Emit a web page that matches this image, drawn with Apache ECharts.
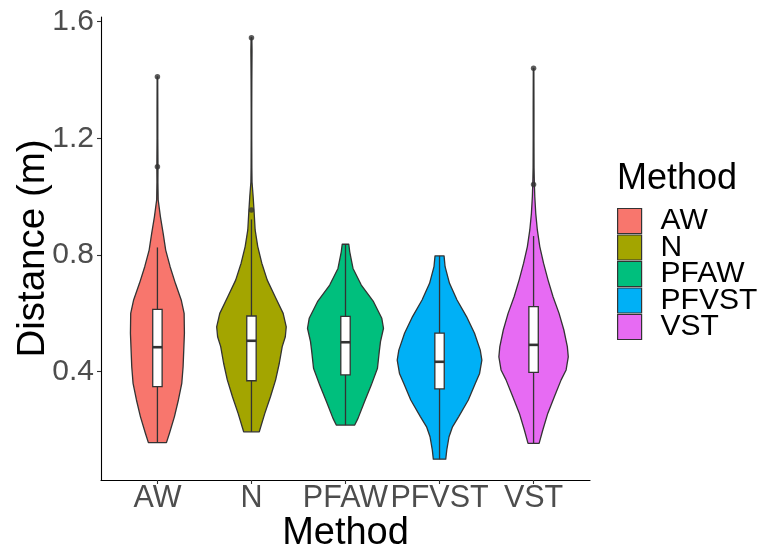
<!DOCTYPE html>
<html>
<head>
<meta charset="utf-8">
<script src="https://cdn.jsdelivr.net/npm/echarts@6/dist/echarts.min.js"></script>
<style>
  html, body { margin: 0; padding: 0; background: #fff; }
  #chart { width: 762px; height: 551px; }
</style>
</head>
<body>
<div id="chart"></div>
<script>
// ---- data ----
const methods = ['AW', 'N', 'PFAW', 'PFVST', 'VST'];
const xTickPositions = [1, 2, 3, 4, 5];
const yTicks = [0.4, 0.8, 1.2, 1.6];

// violin outlines: [value, half-width (in category units)]
const violinAW = [[0.157,0.096],[0.189,0.128],[0.246,0.181],[0.303,0.223],[0.360,0.259],[0.417,0.273],[0.474,0.280],[0.532,0.287],[0.600,0.284],[0.646,0.253],[0.703,0.191],[0.760,0.135],[0.817,0.088],[0.874,0.061],[0.931,0.032],[0.989,0.008],[1.05,0.005],[1.10,0.006],[1.20,0.004],[1.30,0.004],[1.411,0.003]];
const violinN = [[0.194,0.083],[0.257,0.142],[0.314,0.202],[0.372,0.257],[0.429,0.296],[0.486,0.327],[0.520,0.360],[0.554,0.370],[0.600,0.337],[0.657,0.252],[0.714,0.168],[0.772,0.110],[0.829,0.067],[0.886,0.039],[0.943,0.029],[1.000,0.018],[1.05,0.006],[1.10,0.004],[1.20,0.003],[1.30,0.003],[1.40,0.004],[1.50,0.006],[1.545,0.004]];
const violinPFAW = [[0.217,0.098],[0.240,0.133],[0.297,0.202],[0.354,0.274],[0.412,0.340],[0.469,0.359],[0.503,0.372],[0.549,0.404],[0.583,0.386],[0.640,0.298],[0.697,0.168],[0.754,0.080],[0.811,0.045],[0.837,0.035]];
const violinPFVST = [[0.100,0.066],[0.132,0.077],[0.177,0.101],[0.211,0.138],[0.246,0.204],[0.303,0.306],[0.360,0.381],[0.394,0.426],[0.440,0.450],[0.474,0.433],[0.532,0.372],[0.589,0.287],[0.646,0.186],[0.703,0.106],[0.760,0.059],[0.797,0.048]];
const violinVST = [[0.154,0.059],[0.200,0.098],[0.257,0.151],[0.314,0.221],[0.372,0.293],[0.406,0.346],[0.451,0.369],[0.486,0.359],[0.543,0.322],[0.600,0.271],[0.657,0.207],[0.714,0.154],[0.772,0.106],[0.829,0.066],[0.886,0.040],[0.943,0.023],[1.000,0.013],[1.05,0.008],[1.10,0.005],[1.20,0.004],[1.30,0.004],[1.44,0.003]];

// box plot statistics
const whiskerLow  = [0.157, 0.194, 0.217, 0.100, 0.154];
const q1          = [0.349, 0.369, 0.389, 0.341, 0.398];
const median      = [0.484, 0.506, 0.501, 0.434, 0.492];
const q3          = [0.614, 0.591, 0.590, 0.532, 0.623];
const whiskerHigh = [0.826, 0.922, 0.837, 0.797, 0.865];
const outlierMethod = ['AW', 'AW', 'N', 'N', 'VST', 'VST'];
const outlierValue  = [1.103, 1.411, 0.954, 1.545, 1.042, 1.440];

// ---- styles ----
const colors = ['#F8766D', '#A3A500', '#00BF7D', '#00B0F6', '#E76BF3'];
const outline = '#333333';
const FONT = '"Liberation Sans", Arial, sans-serif';

const profiles = [violinAW, violinN, violinPFAW, violinPFVST, violinVST];

const chart = echarts.init(document.getElementById('chart'), null, { renderer: 'canvas' });

function violinRenderer(k) {
  return function (params, api) {
    const pos = xTickPositions[k];
    const prof = profiles[k];
    const right = prof.map(p => api.coord([pos + p[1], p[0]]));
    const left = prof.slice().reverse().map(p => api.coord([pos - p[1], p[0]]));
    return {
      type: 'polygon',
      shape: { points: right.concat(left) },
      style: { fill: colors[k], stroke: outline, lineWidth: 1.3, lineJoin: 'round' }
    };
  };
}

const violinSeries = methods.map((m, k) => ({
  type: 'custom',
  name: m,
  data: [[xTickPositions[k], median[k]]],
  itemStyle: { color: colors[k] },
  renderItem: violinRenderer(k),
  z: 2,
  silent: true
}));

const boxData = methods.map((m, k) => [xTickPositions[k], whiskerLow[k], q1[k], median[k], q3[k], whiskerHigh[k]]);

const boxSeries = {
  type: 'custom',
  name: 'box',
  data: boxData,
  encode: { x: 0, y: [1, 2, 3, 4, 5] },
  z: 3,
  silent: true,
  renderItem: function (params, api) {
    const x = api.value(0);
    const hw = 0.05;
    const pLow = api.coord([x, api.value(1)]);
    const pQ1 = api.coord([x, api.value(2)]);
    const pMed = api.coord([x, api.value(3)]);
    const pQ3 = api.coord([x, api.value(4)]);
    const pHigh = api.coord([x, api.value(5)]);
    const xl = api.coord([x - hw, api.value(3)])[0];
    const xr = api.coord([x + hw, api.value(3)])[0];
    const ls = { stroke: outline, lineWidth: 1.3 };
    return {
      type: 'group',
      children: [
        { type: 'line', shape: { x1: pLow[0], y1: pLow[1], x2: pQ1[0], y2: pQ1[1] }, style: ls },
        { type: 'line', shape: { x1: pQ3[0], y1: pQ3[1], x2: pHigh[0], y2: pHigh[1] }, style: ls },
        { type: 'rect', shape: { x: xl, y: pQ3[1], width: xr - xl, height: pQ1[1] - pQ3[1] }, style: { fill: '#ffffff', stroke: outline, lineWidth: 1.3 } },
        { type: 'line', shape: { x1: xl, y1: pMed[1], x2: xr, y2: pMed[1] }, style: { stroke: outline, lineWidth: 2.6 } }
      ]
    };
  }
};

const outlierSeries = {
  type: 'scatter',
  name: 'outliers',
  data: outlierMethod.map((m, i) => [xTickPositions[methods.indexOf(m)], outlierValue[i]]),
  symbol: 'circle',
  symbolSize: 5.5,
  itemStyle: { color: outline },
  z: 4,
  silent: true
};

const option = {
  animation: false,
  backgroundColor: '#ffffff',
  textStyle: { fontFamily: FONT },
  grid: { left: 101, right: 172, top: 17, bottom: 71, containLabel: false, outerBoundsMode: 'none' },
  xAxis: {
    type: 'value',
    min: 0.4,
    max: 5.6,
    name: 'Method',
    nameLocation: 'middle',
    nameGap: 35,
    nameMoveOverlap: false,
    nameTextStyle: { fontSize: 38, color: '#000000', fontFamily: FONT },
    axisLine: { show: true, onZero: false, lineStyle: { color: '#000000', width: 1.1 } },
    axisTick: { show: true, customValues: xTickPositions, length: 4, lineStyle: { color: outline, width: 1.1 } },
    axisLabel: {
      customValues: xTickPositions,
      formatter: v => methods[Math.round(v) - 1],
      fontSize: 30.5, color: '#4D4D4D', margin: 3, fontFamily: FONT
    },
    splitLine: { show: false }
  },
  yAxis: {
    type: 'value',
    min: 0.0287,
    max: 1.6161,
    name: 'Distance (m)',
    nameLocation: 'middle',
    nameGap: 48,
    nameMoveOverlap: false,
    nameTextStyle: { fontSize: 38.5, color: '#000000', fontFamily: FONT },
    axisLine: { show: true, onZero: false, lineStyle: { color: '#000000', width: 1.1 } },
    axisTick: { show: true, customValues: yTicks, length: 4, lineStyle: { color: outline, width: 1.1 } },
    axisLabel: {
      customValues: yTicks,
      formatter: v => v.toFixed(1),
      fontSize: 30, color: '#4D4D4D', margin: 7, fontFamily: FONT
    },
    splitLine: { show: false }
  },
  legend: {
    data: methods,
    orient: 'vertical',
    left: 617,
    top: 206,
    padding: 0,
    icon: 'rect',
    itemWidth: 24,
    itemHeight: 25,
    itemGap: -3.5,
    selectedMode: false,
    itemStyle: { borderColor: outline, borderWidth: 1.2 },
    textStyle: { fontSize: 30, color: '#000000', fontFamily: FONT, padding: [0, 0, 0, 14] }
  },
  graphic: [
    {
      type: 'text',
      left: 617,
      top: 161,
      style: { text: 'Method', fontSize: 36, fill: '#000000', fontFamily: FONT }
    }
  ],
  series: violinSeries.concat([boxSeries, outlierSeries])
};

chart.setOption(option);
</script>
</body>
</html>
